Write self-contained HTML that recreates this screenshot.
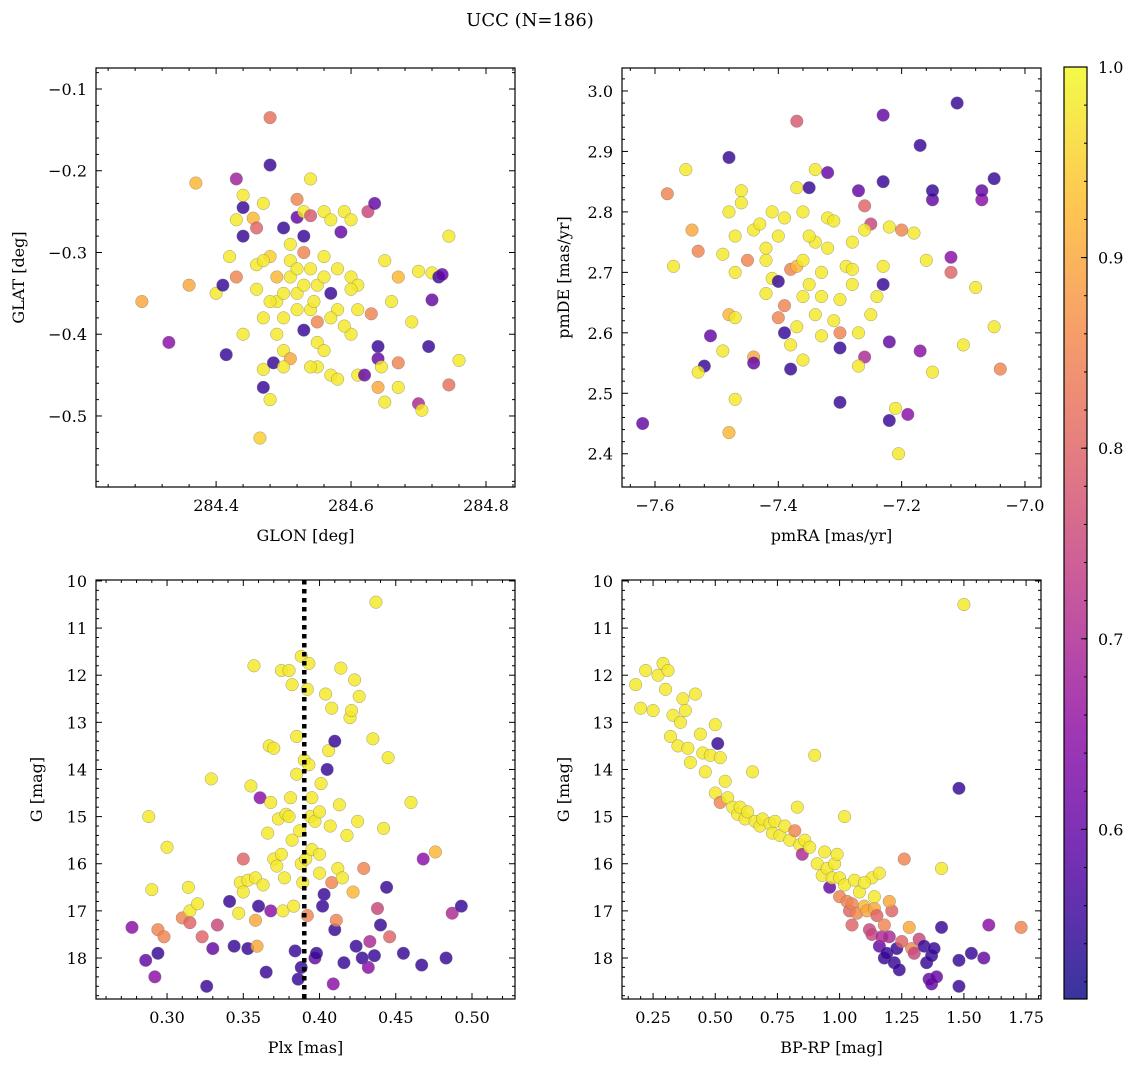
<!DOCTYPE html>
<html><head><meta charset="utf-8"><style>
html,body{margin:0;padding:0;background:#fff}
svg{display:block;font-family:"DejaVu Serif","Liberation Serif",serif}
</style></head><body>
<svg id="fig" width="1136" height="1067" viewBox="0 0 1136 1067" xmlns="http://www.w3.org/2000/svg">
<text x="530" y="26" font-size="18" text-anchor="middle">UCC (N=186)</text>
</svg>
<script>
// ---- data: panel 1 (GLON / GLAT) ----
const p1x=[284.29,284.33,284.37,284.36,284.40,284.41,284.415,284.43,284.44,284.44,284.44,284.43,284.43,284.42,284.44,284.46,284.46,284.455,284.46,284.47,284.48,284.48,284.47,284.465,284.47,284.48,284.485,284.47,284.48,284.49,284.49,284.5,284.48,284.5,284.51,284.52,284.52,284.51,284.52,284.5,284.51,284.5,284.53,284.53,284.54,284.53,284.54,284.55,284.54,284.55,284.53,284.55,284.56,284.57,284.54,284.56,284.57,284.58,284.56,284.57,284.55,284.585,284.59,284.6,284.6,284.61,284.6,284.61,284.58,284.61,284.625,284.635,284.63,284.64,284.64,284.645,284.64,284.65,284.62,284.65,284.66,284.67,284.67,284.67,284.69,284.7,284.705,284.7,284.72,284.73,284.735,284.72,284.715,284.745,284.745,284.76,284.52,284.545,284.5,284.49,284.56,284.58,284.59,284.53,284.51,284.47,284.52,284.57,284.6,284.54];
const p1y=[-0.36,-0.41,-0.215,-0.34,-0.35,-0.34,-0.425,-0.21,-0.245,-0.28,-0.23,-0.26,-0.33,-0.305,-0.40,-0.315,-0.345,-0.258,-0.27,-0.24,-0.193,-0.135,-0.443,-0.527,-0.465,-0.48,-0.435,-0.38,-0.305,-0.33,-0.36,-0.38,-0.36,-0.27,-0.29,-0.235,-0.257,-0.33,-0.35,-0.42,-0.43,-0.44,-0.28,-0.25,-0.21,-0.3,-0.32,-0.34,-0.37,-0.385,-0.395,-0.41,-0.25,-0.26,-0.255,-0.33,-0.35,-0.37,-0.42,-0.45,-0.44,-0.275,-0.25,-0.26,-0.33,-0.34,-0.4,-0.37,-0.455,-0.45,-0.25,-0.24,-0.375,-0.415,-0.43,-0.44,-0.465,-0.483,-0.45,-0.31,-0.36,-0.33,-0.435,-0.465,-0.385,-0.485,-0.493,-0.323,-0.325,-0.33,-0.327,-0.358,-0.415,-0.28,-0.462,-0.432,-0.37,-0.36,-0.35,-0.4,-0.305,-0.32,-0.39,-0.34,-0.31,-0.31,-0.32,-0.38,-0.345,-0.44];
const p1c=[0.9,0.65,0.92,0.9,0.98,0.55,0.55,0.68,0.55,0.55,0.98,0.98,0.85,0.98,0.98,0.98,0.98,0.92,0.8,0.98,0.55,0.82,0.98,0.95,0.55,0.98,0.55,0.98,0.95,0.92,0.98,0.98,0.98,0.55,0.98,0.85,0.6,0.98,0.98,0.98,0.9,0.98,0.55,0.98,0.98,0.85,0.98,0.98,0.98,0.85,0.55,0.98,0.98,0.98,0.78,0.98,0.55,0.98,0.98,0.98,0.98,0.6,0.98,0.98,0.98,0.98,0.98,0.98,0.98,0.98,0.75,0.6,0.85,0.55,0.6,0.98,0.9,0.98,0.6,0.98,0.98,0.92,0.85,0.98,0.98,0.7,0.98,0.98,0.98,0.55,0.6,0.6,0.55,0.98,0.82,0.98,0.98,0.98,0.98,0.98,0.98,0.98,0.98,0.98,0.98,0.98,0.98,0.98,0.98,0.98];
// ---- data: panel 2 (pmRA / pmDE) ----
const p2x=[-7.62,-7.58,-7.57,-7.55,-7.53,-7.54,-7.52,-7.53,-7.51,-7.49,-7.48,-7.49,-7.48,-7.48,-7.47,-7.47,-7.48,-7.47,-7.46,-7.46,-7.47,-7.45,-7.44,-7.44,-7.44,-7.43,-7.42,-7.41,-7.42,-7.40,-7.41,-7.39,-7.39,-7.38,-7.4,-7.39,-7.38,-7.37,-7.36,-7.37,-7.38,-7.37,-7.37,-7.36,-7.35,-7.34,-7.34,-7.35,-7.33,-7.34,-7.33,-7.36,-7.32,-7.32,-7.31,-7.33,-7.31,-7.3,-7.3,-7.3,-7.3,-7.29,-7.28,-7.28,-7.27,-7.28,-7.27,-7.26,-7.27,-7.26,-7.25,-7.25,-7.24,-7.23,-7.23,-7.23,-7.22,-7.23,-7.22,-7.22,-7.21,-7.205,-7.2,-7.18,-7.19,-7.17,-7.17,-7.16,-7.15,-7.15,-7.15,-7.12,-7.12,-7.11,-7.1,-7.08,-7.07,-7.07,-7.05,-7.05,-7.04,-7.26,-7.35,-7.36,-7.42,-7.32,-7.4];
const p2y=[2.45,2.83,2.71,2.87,2.735,2.77,2.545,2.535,2.595,2.73,2.89,2.57,2.435,2.63,2.625,2.49,2.8,2.76,2.835,2.815,2.7,2.72,2.77,2.56,2.55,2.78,2.74,2.69,2.665,2.685,2.8,2.79,2.6,2.54,2.625,2.645,2.705,2.71,2.72,2.61,2.58,2.95,2.84,2.8,2.84,2.87,2.75,2.68,2.66,2.63,2.595,2.555,2.865,2.79,2.785,2.7,2.62,2.655,2.6,2.485,2.575,2.71,2.705,2.75,2.835,2.68,2.6,2.56,2.545,2.81,2.78,2.63,2.66,2.96,2.85,2.68,2.775,2.71,2.585,2.455,2.475,2.4,2.77,2.765,2.465,2.91,2.57,2.72,2.535,2.82,2.835,2.7,2.725,2.98,2.58,2.675,2.82,2.835,2.855,2.61,2.54,2.77,2.76,2.66,2.72,2.74,2.76];
const p2c=[0.6,0.85,0.98,0.98,0.85,0.9,0.55,0.98,0.6,0.98,0.55,0.98,0.92,0.92,0.98,0.98,0.98,0.98,0.98,0.98,0.98,0.85,0.98,0.9,0.6,0.98,0.98,0.98,0.98,0.55,0.98,0.98,0.55,0.55,0.85,0.85,0.85,0.92,0.98,0.98,0.98,0.78,0.98,0.98,0.55,0.98,0.98,0.98,0.98,0.98,0.98,0.98,0.6,0.98,0.98,0.98,0.98,0.98,0.85,0.55,0.55,0.98,0.98,0.98,0.6,0.98,0.98,0.7,0.98,0.8,0.75,0.98,0.98,0.6,0.55,0.55,0.98,0.98,0.6,0.55,0.98,0.98,0.85,0.98,0.65,0.55,0.65,0.98,0.98,0.6,0.55,0.8,0.65,0.55,0.98,0.98,0.65,0.6,0.55,0.98,0.85,0.98,0.98,0.98,0.98,0.98,0.98];
// ---- data: panel 3 (Plx / G) ----
const p3x=[0.277,0.286,0.288,0.29,0.292,0.294,0.294,0.298,0.3,0.31,0.315,0.314,0.315,0.32,0.323,0.326,0.329,0.33,0.333,0.341,0.344,0.347,0.348,0.35,0.35,0.353,0.353,0.355,0.357,0.358,0.358,0.359,0.36,0.361,0.363,0.365,0.366,0.367,0.368,0.368,0.37,0.37,0.372,0.373,0.375,0.375,0.376,0.377,0.378,0.38,0.381,0.382,0.382,0.383,0.384,0.385,0.385,0.386,0.387,0.388,0.388,0.388,0.389,0.39,0.391,0.392,0.392,0.393,0.393,0.394,0.395,0.397,0.398,0.4,0.4,0.401,0.402,0.403,0.404,0.405,0.406,0.407,0.408,0.408,0.409,0.41,0.41,0.411,0.412,0.413,0.414,0.415,0.416,0.418,0.42,0.421,0.422,0.423,0.424,0.425,0.426,0.428,0.429,0.432,0.433,0.435,0.436,0.437,0.438,0.44,0.442,0.444,0.445,0.446,0.455,0.46,0.467,0.468,0.476,0.483,0.487,0.493,0.397,0.38,0.395,0.4];
const p3y=[17.35,18.05,15.0,16.55,18.4,17.4,17.9,17.55,15.65,17.15,17.0,16.5,17.25,16.85,17.55,18.6,14.2,17.8,17.3,16.8,17.75,17.05,16.4,15.9,16.6,16.35,17.8,14.35,11.8,16.3,17.2,17.75,16.9,14.6,16.45,18.3,15.35,13.5,14.7,17.0,15.9,13.55,16.05,15.05,11.9,15.8,17.0,16.3,14.95,11.9,14.6,12.2,15.5,16.9,17.85,14.1,13.3,18.45,15.3,11.6,16.0,18.2,16.4,13.8,15.9,12.3,17.1,13.9,11.75,15.0,15.7,18.0,17.9,16.2,15.8,14.3,16.9,16.65,12.4,14.0,13.6,15.2,12.7,16.4,18.55,13.4,17.4,17.2,16.1,14.75,11.85,16.3,18.1,15.4,12.9,12.75,16.6,12.1,17.75,15.1,12.45,18.0,16.1,18.2,17.65,13.35,17.95,10.45,16.95,17.3,15.25,16.5,13.75,17.55,17.9,14.7,18.15,15.9,15.75,18.0,17.05,16.9,15.1,15.0,14.6,14.9];
const p3c=[0.65,0.6,0.98,0.98,0.65,0.85,0.55,0.85,0.98,0.85,0.98,0.98,0.8,0.98,0.8,0.55,0.98,0.6,0.75,0.55,0.55,0.98,0.98,0.8,0.98,0.98,0.55,0.98,0.98,0.98,0.9,0.9,0.55,0.65,0.98,0.55,0.98,0.98,0.98,0.65,0.98,0.98,0.98,0.98,0.98,0.98,0.98,0.98,0.98,0.98,0.98,0.98,0.98,0.98,0.55,0.98,0.98,0.55,0.98,0.98,0.98,0.55,0.98,0.98,0.98,0.98,0.85,0.98,0.98,0.98,0.98,0.6,0.55,0.98,0.98,0.98,0.55,0.55,0.98,0.55,0.98,0.98,0.98,0.85,0.65,0.55,0.55,0.85,0.98,0.98,0.98,0.98,0.55,0.98,0.98,0.98,0.92,0.98,0.55,0.98,0.98,0.55,0.85,0.65,0.7,0.98,0.55,0.98,0.75,0.55,0.98,0.55,0.98,0.8,0.55,0.98,0.55,0.65,0.92,0.55,0.7,0.55,0.98,0.98,0.98,0.98];
const p3line=[0.39];
// ---- data: panel 4 (BP-RP / G) ----
const p4x=[0.18,0.22,0.2,0.25,0.27,0.29,0.31,0.3,0.33,0.32,0.35,0.37,0.36,0.38,0.39,0.4,0.42,0.44,0.45,0.46,0.48,0.5,0.5,0.51,0.52,0.52,0.54,0.55,0.57,0.59,0.6,0.62,0.63,0.65,0.66,0.68,0.69,0.72,0.73,0.74,0.76,0.78,0.8,0.82,0.83,0.84,0.85,0.86,0.88,0.9,0.91,0.93,0.94,0.95,0.96,0.97,0.98,0.99,1.0,1.0,1.02,1.02,1.03,1.04,1.05,1.05,1.06,1.07,1.08,1.1,1.11,1.12,1.13,1.13,1.14,1.15,1.16,1.16,1.17,1.18,1.18,1.19,1.2,1.21,1.22,1.23,1.24,1.25,1.26,1.28,1.29,1.3,1.32,1.34,1.35,1.36,1.37,1.37,1.38,1.39,1.41,1.41,1.48,1.48,1.48,1.5,1.53,1.58,1.6,1.73,1.14,1.2,1.1];
const p4y=[12.2,11.9,12.7,12.75,12.0,11.75,11.9,12.3,12.85,13.3,13.5,12.5,13.0,12.75,13.55,13.85,12.4,13.25,13.65,14.05,13.7,13.05,14.5,13.45,13.75,14.7,14.25,14.6,14.8,14.95,14.8,15.05,14.9,14.05,15.1,15.2,15.05,15.15,15.35,15.1,15.4,15.2,15.5,15.3,14.8,15.6,15.8,15.5,15.65,13.7,16.0,16.25,15.75,16.1,16.5,16.3,16.0,15.8,16.3,16.7,15.0,16.45,16.8,17.0,17.3,16.85,16.35,17.05,16.6,16.9,17.0,17.4,17.5,16.3,16.95,17.1,16.2,17.75,17.55,17.3,18.0,17.9,17.55,17.0,18.1,17.8,18.25,17.65,15.9,17.35,17.8,17.9,17.6,17.75,18.1,18.45,18.55,17.95,17.8,18.4,16.1,17.35,18.05,18.6,14.4,10.5,17.9,18.0,17.3,17.35,16.7,16.8,16.4];
const p4c=[0.98,0.98,0.98,0.98,0.98,0.98,0.98,0.98,0.98,0.98,0.98,0.98,0.98,0.98,0.98,0.98,0.98,0.98,0.98,0.98,0.98,0.98,0.98,0.55,0.98,0.85,0.98,0.98,0.98,0.98,0.98,0.98,0.98,0.98,0.98,0.98,0.98,0.98,0.98,0.98,0.98,0.98,0.98,0.85,0.98,0.98,0.7,0.98,0.98,0.98,0.98,0.98,0.98,0.98,0.6,0.98,0.98,0.98,0.98,0.85,0.98,0.98,0.85,0.8,0.8,0.85,0.98,0.85,0.98,0.92,0.9,0.75,0.75,0.98,0.9,0.8,0.98,0.6,0.7,0.85,0.55,0.55,0.7,0.8,0.55,0.55,0.55,0.8,0.85,0.9,0.85,0.75,0.75,0.55,0.55,0.6,0.6,0.55,0.55,0.6,0.98,0.55,0.55,0.55,0.55,0.98,0.55,0.6,0.65,0.85,0.98,0.9,0.98];
// ---- colorbar ticks ----
const cbTicks=[0.6,0.7,0.8,0.9,1.0];

const NS="http://www.w3.org/2000/svg";
const svg=document.getElementById('fig');
function mk(tag,attrs,parent){const e=document.createElementNS(NS,tag);for(const k in attrs)e.setAttribute(k,attrs[k]);(parent||svg).appendChild(e);return e;}
const VMIN=0.511,VMAX=1.0;
const stops=[[13,8,135],[84,2,163],[139,10,165],[185,50,137],[219,92,104],[244,136,73],[254,188,43],[240,249,33]];
function cmap(v){let t=(v-VMIN)/(VMAX-VMIN);t=Math.max(0,Math.min(1,t));const s=t*(stops.length-1);const i=Math.min(Math.floor(s),stops.length-2);const f=s-i;const a=stops[i],b=stops[i+1];return `rgb(${Math.round(a[0]+(b[0]-a[0])*f)},${Math.round(a[1]+(b[1]-a[1])*f)},${Math.round(a[2]+(b[2]-a[2])*f)})`;}
function fmt(v,d){const s=Math.abs(v).toFixed(d);return (v<-1e-9?'\u2212':'')+s;}

function panel(cfg){
  const g=mk('g',{});
  
  
  const L=cfg.L,T=cfg.T,W=cfg.W,H=cfg.H;
  const sx=v=>L+(v-cfg.x0)/(cfg.x1-cfg.x0)*W;
  const sy=v=>T+(cfg.y1-v)/(cfg.y1-cfg.y0)*H;
  const syv=cfg.inv?(v=>T+(v-cfg.y1)/(cfg.y0-cfg.y1)*H):sy;
  const pg=mk('g',{},g);
  
  
  for(let i=0;i<cfg.xs.length;i++){
    const c=mk('circle',{cx:sx(cfg.xs[i]),cy:syv(cfg.ys[i]),r:6.3,fill:cmap(cfg.cs[i]),'fill-opacity':0.82,stroke:'#777','stroke-width':0.5,'stroke-opacity':0.7},pg);
    
    
  }
  if(cfg.vline){for(const v of cfg.vline){const l=mk('line',{x1:sx(v),x2:sx(v),y1:T,y2:T+H,stroke:'#000','stroke-width':4.5,'stroke-dasharray':'4.5,4.5'},g);}}
  const fr=mk('rect',{x:L,y:T,width:W,height:H,fill:'none',stroke:'#000','stroke-width':1.2},g);
  
  
  const xt=mk('g',{},g);
  
  
  for(let k=-200;k<=200;k++){
    const v=cfg.xs0+k*cfg.xstep/5; if(v<cfg.x0-1e-9||v>cfg.x1+1e-9)continue;
    const px=sx(v); const major=(Math.abs(k)%5===0); const len=major?6:3;
    mk('line',{x1:px,x2:px,y1:T+H,y2:T+H-len,stroke:'#000','stroke-width':1},xt);
    mk('line',{x1:px,x2:px,y1:T,y2:T+len,stroke:'#000','stroke-width':1},xt);
    if(major){const t=mk('text',{x:px,y:T+H+24,'font-size':16,'text-anchor':'middle'},xt);t.textContent=fmt(v,cfg.xd);}
  }
  const yt=mk('g',{},g);
  
  
  for(let k=-200;k<=200;k++){
    const v=cfg.ys0+k*cfg.ystep/5; const lo=Math.min(cfg.y0,cfg.y1),hi=Math.max(cfg.y0,cfg.y1); if(v<lo-1e-9||v>hi+1e-9)continue;
    const py=syv(v); const major=(Math.abs(k)%5===0); const len=major?6:3;
    mk('line',{x1:L,x2:L+len,y1:py,y2:py,stroke:'#000','stroke-width':1},yt);
    mk('line',{x1:L+W,x2:L+W-len,y1:py,y2:py,stroke:'#000','stroke-width':1},yt);
    if(major){const t=mk('text',{x:L-9,y:py+6,'font-size':16,'text-anchor':'end'},yt);t.textContent=fmt(v,cfg.yd);}
  }
  const xl=mk('text',{x:L+W/2,y:T+H+54,'font-size':16,'text-anchor':'middle'},g);
  
  
  xl.textContent=cfg.xlabel;
  const yl=mk('text',{x:0,y:0,'font-size':16,'text-anchor':'middle',transform:`translate(${cfg.ylx},${T+H/2}) rotate(-90)`},g);
  
  
  yl.textContent=cfg.ylabel;
}
panel({name:'glon-glat-panel',L:96,T:68,W:419,H:419,x0:284.222,x1:284.843,y0:-0.5869,y1:-0.0743,xs0:284.4,xstep:0.2,ys0:-0.5,ystep:0.1,xd:1,yd:1,xs:p1x,ys:p1y,cs:p1c,xlabel:'GLON [deg]',ylabel:'GLAT [deg]',ylx:24});
panel({name:'pm-panel',L:622,T:68,W:419,H:419,x0:-7.6535,x1:-6.974,y0:2.345,y1:3.038,xs0:-7.6,xstep:0.2,ys0:2.4,ystep:0.1,xd:1,yd:1,xs:p2x,ys:p2y,cs:p2c,xlabel:'pmRA [mas/yr]',ylabel:'pmDE [mas/yr]',ylx:569});
panel({name:'plx-g-panel',L:96,T:580,W:419,H:419,x0:0.2534,x1:0.5282,y0:18.87,y1:9.98,inv:true,xs0:0.3,xstep:0.05,ys0:10,ystep:1,xd:2,yd:0,xs:p3x,ys:p3y,cs:p3c,vline:p3line,xlabel:'Plx [mas]',ylabel:'G [mag]',ylx:42});
panel({name:'cmd-panel',L:622,T:580,W:419,H:419,x0:0.125,x1:1.81,y0:18.87,y1:9.98,inv:true,xs0:0.25,xstep:0.25,ys0:10,ystep:1,xd:2,yd:0,xs:p4x,ys:p4y,cs:p4c,xlabel:'BP-RP [mag]',ylabel:'G [mag]',ylx:569});

const cb=mk('g',{});


const CL=1064,CT=67,CW=23,CH=932;
const defs=mk('defs',{},cb);
const gr=mk('linearGradient',{id:'cbg',x1:0,y1:1,x2:0,y2:0},defs);
for(let i=0;i<=20;i++){const v=VMIN+(VMAX-VMIN)*i/20;mk('stop',{offset:(i/20),'stop-color':cmap(v),'stop-opacity':0.82},gr);}
mk('rect',{x:CL,y:CT,width:CW,height:CH,fill:'url(#cbg)'},cb);
mk('rect',{x:CL,y:CT,width:CW,height:CH,fill:'none',stroke:'#000','stroke-width':1.2},cb);
const cy=v=>CT+(VMAX-v)/(VMAX-VMIN)*CH;
for(let k=0;k<=25;k++){const v=0.52+k*0.02;if(v>VMAX+1e-9)continue;mk('line',{x1:CL+CW,x2:CL+CW-3,y1:cy(v),y2:cy(v),stroke:'#000','stroke-width':1},cb);}
for(const v of cbTicks){const y=cy(v);mk('line',{x1:CL+CW,x2:CL+CW-6,y1:y,y2:y,stroke:'#000','stroke-width':1},cb);const t=mk('text',{x:CL+CW+11,y:y+6,'font-size':16},cb);t.textContent=v.toFixed(1);}
</script>
</body></html>
